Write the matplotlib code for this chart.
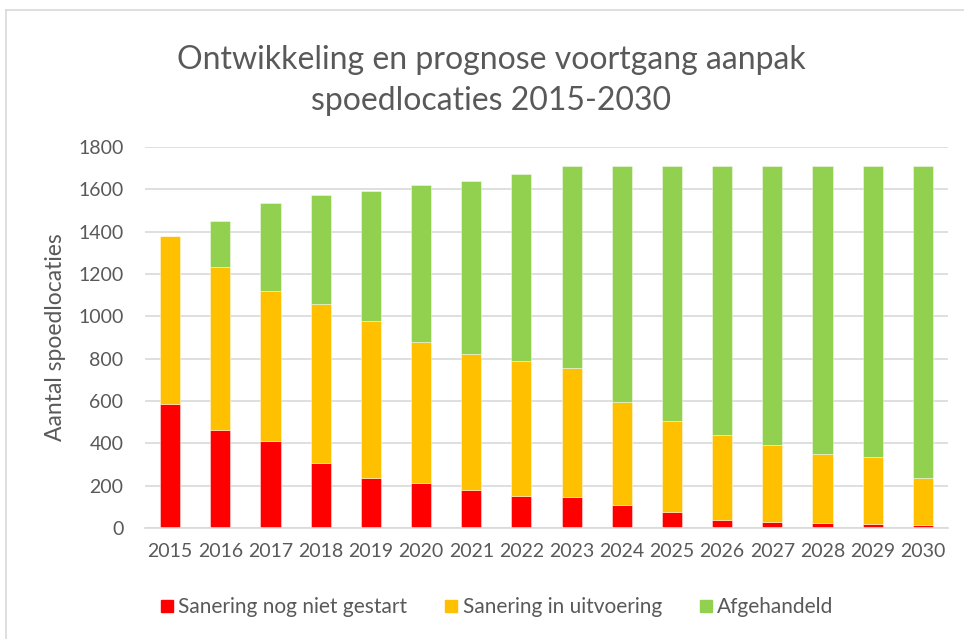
import matplotlib
matplotlib.use("Agg")
import matplotlib.pyplot as plt
from matplotlib.lines import Line2D
import numpy as np

years = [str(y) for y in range(2015, 2031)]
niet_gestart = [587, 465, 409, 306, 238, 213, 181, 150, 148, 110, 74, 36, 30, 24, 17, 13]
in_uitvoering = [793, 770, 712, 752, 740, 667, 639, 637, 608, 487, 430, 403, 362, 327, 318, 223]
afgehandeld = [0, 217, 413, 514, 613, 742, 821, 885, 956, 1115, 1208, 1273, 1320, 1361, 1377, 1476]
series_names = ["Sanering nog niet gestart", "Sanering in uitvoering", "Afgehandeld"]
colors = ["#FF0000", "#FFC000", "#92D050"]
yticks = [0, 200, 400, 600, 800, 1000, 1200, 1400, 1600, 1800]

plt.rcParams['font.family'] = ['Lato', 'DejaVu Sans']
text_color = "#595959"

fig = plt.figure(figsize=(9.64, 6.39), dpi=100)
ax = fig.add_axes([145/964, 1 - 528/639, (948-145)/964, (528-147)/639])

x = np.arange(len(years))
bottom = np.zeros(len(years))
for vals, name, c in zip([niet_gestart, in_uitvoering, afgehandeld], series_names, colors):
    ax.bar(x, vals, width=0.4, bottom=bottom, color=c, label=name, zorder=3,
           edgecolor=(1, 1, 1, 0.5), linewidth=0.6)
    bottom += np.array(vals)

ax.set_xlim(-0.5, len(years) - 0.5)
ax.set_ylim(0, 1800)
ax.set_yticks(yticks)
ax.set_xticks(x)
ax.set_xticklabels(years)
ax.grid(axis='y', color='#D9D9D9', linewidth=1.2, zorder=0)
for s in ['top', 'right', 'left']:
    ax.spines[s].set_visible(False)
ax.spines['bottom'].set_color('#D9D9D9')
ax.spines['bottom'].set_linewidth(1.2)
ax.spines['bottom'].set_zorder(4)
ax.tick_params(axis='both', length=0, labelsize=14, labelcolor=text_color)
ax.tick_params(axis='y', pad=15.5)
ax.tick_params(axis='x', pad=11)

ax.set_ylabel("Aantal spoedlocaties", fontsize=16.5, color=text_color)
ax.yaxis.set_label_coords(66/964, 1 - 337/639, transform=fig.transFigure)

fig.text(491/964, 1 - 60/639, "Ontwikkeling en prognose voortgang aanpak", ha='center', va='center',
         fontsize=23, color=text_color)
fig.text(491/964, 1 - 101/639, "spoedlocaties 2015-2030", ha='center', va='center',
         fontsize=23, color=text_color)

handles = [Line2D([0], [0], marker='s', linestyle='none', markersize=9, markerfacecolor=c,
                  markeredgecolor=c) for c in colors]
leg = fig.legend(handles, series_names, loc='center', bbox_to_anchor=(495/964, 1 - 607/639),
                 ncol=3, frameon=False, fontsize=15, handletextpad=0.05, columnspacing=1.6,
                 handlelength=1.0)
for t in leg.get_texts():
    t.set_color(text_color)

# chart border (top and left visible)
fig.add_artist(Line2D([6/964, 6/964], [0, 1 - 10/639], color='#D9D9D9', linewidth=1.2))
fig.add_artist(Line2D([6/964, 1], [1 - 10/639, 1 - 10/639], color='#D9D9D9', linewidth=1.2))

fig.savefig("out.png", dpi=100)
